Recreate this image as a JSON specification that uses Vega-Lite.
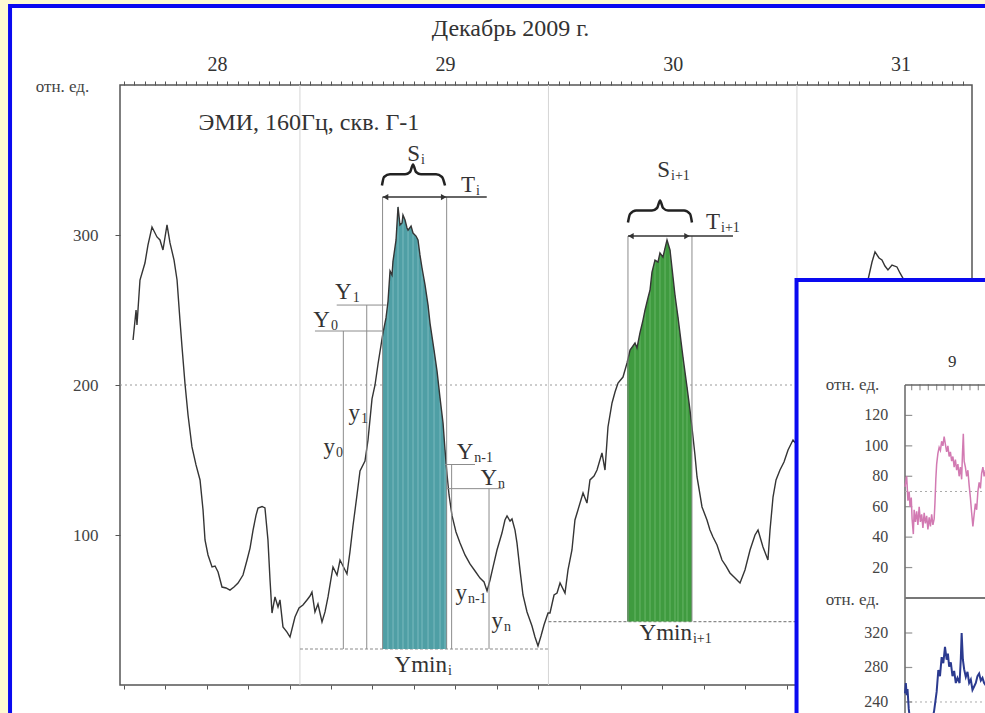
{
"$schema": "https://vega.github.io/schema/vega-lite/v6.json",
"width": 852,
"height": 600,
"autosize": "none",
"padding": {"left": 120, "top": 85, "right": 13, "bottom": 28},
"background": "white",
"config": {"view": {"stroke": "#555555", "strokeWidth": 1.5}, "axis": {"grid": false}, "font": "Liberation Serif, Times New Roman, DejaVu Serif, serif"},
"datasets": {
"curve": [{"h":7.88,"v":230},{"h":8.17,"v":250},{"h":8.26,"v":240},{"h":8.55,"v":270},{"h":9.03,"v":281.3},{"h":9.32,"v":293.3},{"h":9.71,"v":305.3},{"h":10.19,"v":298.7},{"h":10.48,"v":296.7},{"h":10.77,"v":290},{"h":11.16,"v":306.7},{"h":11.45,"v":294.7},{"h":11.84,"v":283.3},{"h":12.13,"v":270},{"h":12.41,"v":243.3},{"h":12.61,"v":225.3},{"h":12.9,"v":200.7},{"h":13.19,"v":180},{"h":13.57,"v":158.7},{"h":13.96,"v":146.7},{"h":14.35,"v":136.7},{"h":14.64,"v":116.7},{"h":14.83,"v":96.7},{"h":15.12,"v":86.7},{"h":15.51,"v":78.7},{"h":15.8,"v":79.3},{"h":16.09,"v":75.3},{"h":16.47,"v":65.3},{"h":16.86,"v":64.7},{"h":17.24,"v":63.3},{"h":17.63,"v":65.3},{"h":18.02,"v":68},{"h":18.5,"v":73.3},{"h":18.89,"v":83.3},{"h":19.18,"v":91.3},{"h":19.47,"v":103.3},{"h":19.76,"v":113.3},{"h":19.95,"v":118},{"h":20.34,"v":119},{"h":20.62,"v":118},{"h":20.91,"v":96.7},{"h":21.11,"v":70},{"h":21.3,"v":48},{"h":21.59,"v":58.7},{"h":21.88,"v":52},{"h":22.07,"v":56.7},{"h":22.36,"v":38.7},{"h":22.75,"v":35.3},{"h":23.04,"v":32},{"h":23.52,"v":45.3},{"h":23.91,"v":51.3},{"h":24.29,"v":53.3},{"h":24.68,"v":56.7},{"h":24.97,"v":59.3},{"h":25.16,"v":62},{"h":25.45,"v":48.7},{"h":25.74,"v":54},{"h":26.13,"v":42},{"h":26.42,"v":48.7},{"h":26.71,"v":58.7},{"h":27.19,"v":78.7},{"h":27.58,"v":73.3},{"h":27.87,"v":83.3},{"h":28.16,"v":79.3},{"h":28.54,"v":74},{"h":28.83,"v":88.7},{"h":29.12,"v":106},{"h":29.51,"v":126.7},{"h":29.8,"v":142.7},{"h":30.28,"v":149.3},{"h":30.57,"v":163.3},{"h":30.96,"v":190.7},{"h":31.25,"v":200},{"h":31.54,"v":214},{"h":32.02,"v":234.7},{"h":32.31,"v":244.7},{"h":32.5,"v":255.3},{"h":32.7,"v":276},{"h":32.89,"v":273.3},{"h":32.99,"v":282.7},{"h":33.28,"v":296.7},{"h":33.47,"v":318.7},{"h":33.66,"v":306.7},{"h":33.86,"v":308},{"h":33.95,"v":313.3},{"h":34.15,"v":310},{"h":34.34,"v":304.7},{"h":34.44,"v":303.3},{"h":34.73,"v":306},{"h":34.92,"v":301.3},{"h":35.21,"v":299.3},{"h":35.4,"v":296.7},{"h":35.59,"v":286.7},{"h":35.79,"v":278},{"h":36.08,"v":266.7},{"h":36.37,"v":253.3},{"h":36.56,"v":241.3},{"h":36.95,"v":223.3},{"h":37.24,"v":209.3},{"h":37.53,"v":191.3},{"h":37.82,"v":174.7},{"h":38.01,"v":156.7},{"h":38.2,"v":140.7},{"h":38.4,"v":126.7},{"h":38.69,"v":112.7},{"h":39.07,"v":102},{"h":39.46,"v":94.7},{"h":39.94,"v":86.7},{"h":40.42,"v":80.7},{"h":40.91,"v":76},{"h":41.39,"v":71.3},{"h":41.78,"v":68.7},{"h":42.07,"v":62.7},{"h":42.36,"v":70},{"h":42.65,"v":78.7},{"h":43.03,"v":90},{"h":43.51,"v":101.3},{"h":43.8,"v":110},{"h":44.0,"v":112.7},{"h":44.29,"v":109.3},{"h":44.48,"v":110.7},{"h":44.77,"v":103.3},{"h":44.96,"v":94.7},{"h":45.25,"v":76.7},{"h":45.54,"v":60},{"h":45.93,"v":48.7},{"h":46.41,"v":39.3},{"h":46.7,"v":32},{"h":46.99,"v":26},{"h":47.28,"v":32.7},{"h":47.57,"v":40},{"h":47.96,"v":48},{"h":48.15,"v":48},{"h":48.54,"v":60},{"h":48.83,"v":61.3},{"h":49.12,"v":68},{"h":49.6,"v":61.3},{"h":49.89,"v":76.7},{"h":50.27,"v":90},{"h":50.56,"v":110},{"h":50.85,"v":116.7},{"h":51.34,"v":128},{"h":51.72,"v":121.3},{"h":52.01,"v":136.7},{"h":52.4,"v":139.3},{"h":52.69,"v":143.3},{"h":53.17,"v":154.7},{"h":53.46,"v":143.3},{"h":53.75,"v":172},{"h":54.14,"v":188},{"h":54.43,"v":195.3},{"h":54.72,"v":201.3},{"h":55.2,"v":205.3},{"h":55.59,"v":214.7},{"h":55.88,"v":223.3},{"h":56.36,"v":228},{"h":56.55,"v":224.7},{"h":56.84,"v":234.7},{"h":57.13,"v":243.3},{"h":57.33,"v":250},{"h":57.61,"v":258},{"h":57.81,"v":263.3},{"h":58.0,"v":275.3},{"h":58.29,"v":283.3},{"h":58.58,"v":282},{"h":58.77,"v":288},{"h":59.06,"v":285.3},{"h":59.26,"v":291.3},{"h":59.45,"v":296.7},{"h":59.74,"v":290},{"h":60.03,"v":272},{"h":60.22,"v":260},{"h":60.51,"v":245.3},{"h":60.99,"v":218.7},{"h":61.38,"v":198.7},{"h":61.67,"v":183.3},{"h":61.86,"v":172},{"h":62.15,"v":153.3},{"h":62.35,"v":138.7},{"h":62.64,"v":126.7},{"h":62.83,"v":118.7},{"h":63.31,"v":110},{"h":63.6,"v":103.3},{"h":63.89,"v":98.7},{"h":64.28,"v":93.3},{"h":64.76,"v":83.3},{"h":65.15,"v":79.3},{"h":65.53,"v":74.7},{"h":66.02,"v":71.3},{"h":66.5,"v":68},{"h":66.98,"v":76.7},{"h":67.47,"v":90},{"h":67.95,"v":100},{"h":68.24,"v":103.3},{"h":68.72,"v":92},{"h":69.2,"v":83.3},{"h":69.4,"v":103.3},{"h":69.69,"v":125.3},{"h":69.98,"v":136.7},{"h":70.36,"v":143.3},{"h":70.75,"v":148.7},{"h":71.14,"v":156.7},{"h":71.62,"v":163.3},{"h":72.01,"v":160},{"h":72.3,"v":170},{"h":73.74,"v":190},{"h":75.68,"v":223.3},{"h":77.61,"v":256.7},{"h":78.86,"v":270},{"h":79.25,"v":282},{"h":79.54,"v":288.7},{"h":79.93,"v":284.7},{"h":80.21,"v":283.3},{"h":80.5,"v":279.3},{"h":80.79,"v":276.7},{"h":81.18,"v":280},{"h":81.66,"v":278.7},{"h":81.95,"v":274.7},{"h":82.44,"v":268.7},{"h":83.4,"v":250},{"h":84.85,"v":223.3},{"h":86.78,"v":203.3},{"h":88.23,"v":196.7}],
"guides": [{"h1":31.98,"h2":31.98,"v1":325.3,"v2":24},{"h1":38.17,"h2":38.17,"v1":325.3,"v2":24},{"h1":27.55,"h2":32.38,"v1":253.3,"v2":253.3},{"h1":25.45,"h2":32.05,"v1":236,"v2":236},{"h1":28.19,"h2":28.19,"v1":236,"v2":24},{"h1":30.45,"h2":30.45,"v1":253.3,"v2":24},{"h1":38.01,"h2":40.91,"v1":147,"v2":147},{"h1":38.17,"h2":43.63,"v1":130.9,"v2":130.9},{"h1":38.65,"h2":38.65,"v1":147,"v2":24},{"h1":42.26,"h2":42.26,"v1":130.9,"v2":24},{"h1":55.68,"h2":55.68,"v1":299.3,"v2":42.3},{"h1":61.86,"h2":61.86,"v1":299.3,"v2":42.3}],
"arrows": [{"h1":31.98,"h2":42.04,"v1":325.3,"v2":325.3},{"h1":55.68,"h2":65.82,"v1":299.3,"v2":299.3}],
"heads": [{"h":32.27,"v":325.3,"d":"l"},{"h":37.88,"v":325.3,"d":"r"},{"h":55.97,"v":299.3,"d":"l"},{"h":61.38,"v":299.3,"d":"r"}],
"ymin": [{"h1":24,"h2":48,"v":24},{"h1":48,"h2":72,"v":42.3}],
"braces": [{"b":"a","h":31.92,"v":333},{"b":"a","h":32.12,"v":338.7},{"b":"a","h":32.7,"v":340.5},{"b":"a","h":34.15,"v":340.5},{"b":"a","h":34.63,"v":342},{"b":"a","h":34.92,"v":347},{"b":"a","h":35.21,"v":342},{"b":"a","h":35.69,"v":340.5},{"b":"a","h":37.14,"v":340.5},{"b":"a","h":37.72,"v":338.7},{"b":"a","h":38.01,"v":333},{"b":"b","h":55.68,"v":308.3},{"b":"b","h":55.88,"v":314},{"b":"b","h":56.46,"v":316.3},{"b":"b","h":58.0,"v":316.3},{"b":"b","h":58.49,"v":318},{"b":"b","h":58.78,"v":323},{"b":"b","h":59.07,"v":318},{"b":"b","h":59.55,"v":316.3},{"b":"b","h":61.1,"v":316.3},{"b":"b","h":61.68,"v":314},{"b":"b","h":61.86,"v":308.3}],
"labels": [{"h":35.59,"v":354,"m":"S","s":"i"},{"h":40.91,"v":333.3,"m":"T","s":"i"},{"h":59.74,"v":343.3,"m":"S","s":"i+1"},{"h":64.57,"v":308.9,"m":"T","s":"i+1"},{"h":29.0,"v":262,"m":"Y","s":"1"},{"h":26.9,"v":243.3,"m":"Y","s":"0"},{"h":29.8,"v":181.3,"m":"y","s":"1"},{"h":27.39,"v":158.6,"m":"y","s":"0"},{"h":40.74,"v":155.3,"m":"Y","s":"n-1"},{"h":43.04,"v":138,"m":"Y","s":"n"},{"h":40.13,"v":61.3,"m":"y","s":"n-1"},{"h":43.61,"v":42.6,"m":"y","s":"n"},{"h":38.2,"v":13.3,"m":"Ymin","s":"\u00a0i"},{"h":61.86,"v":34.7,"m":"Ymin","s":"i+1"}],
"days": [{"h":24},{"h":48},{"h":72}],
"pink": [{"ih":0,"v":73},{"ih":0.2,"v":80},{"ih":0.35,"v":64},{"ih":0.5,"v":70},{"ih":0.6,"v":60},{"ih":0.75,"v":66},{"ih":0.85,"v":52},{"ih":1.0,"v":42},{"ih":1.1,"v":58},{"ih":1.25,"v":50},{"ih":1.4,"v":57},{"ih":1.55,"v":48},{"ih":1.7,"v":60},{"ih":1.85,"v":50},{"ih":2.0,"v":55},{"ih":2.15,"v":46},{"ih":2.3,"v":56},{"ih":2.45,"v":49},{"ih":2.6,"v":54},{"ih":2.75,"v":45},{"ih":2.9,"v":53},{"ih":3.05,"v":47},{"ih":3.2,"v":55},{"ih":3.35,"v":48},{"ih":3.5,"v":52},{"ih":3.6,"v":63},{"ih":3.7,"v":78},{"ih":3.8,"v":88},{"ih":3.95,"v":95},{"ih":4.1,"v":99},{"ih":4.25,"v":97},{"ih":4.4,"v":103},{"ih":4.55,"v":100},{"ih":4.7,"v":106},{"ih":4.85,"v":101},{"ih":5.0,"v":96},{"ih":5.15,"v":100},{"ih":5.3,"v":93},{"ih":5.45,"v":96},{"ih":5.6,"v":90},{"ih":5.75,"v":93},{"ih":5.9,"v":86},{"ih":6.05,"v":91},{"ih":6.2,"v":84},{"ih":6.35,"v":88},{"ih":6.5,"v":80},{"ih":6.65,"v":86},{"ih":6.8,"v":78},{"ih":6.9,"v":95},{"ih":7.0,"v":108},{"ih":7.1,"v":90},{"ih":7.25,"v":86},{"ih":7.4,"v":80},{"ih":7.55,"v":84},{"ih":7.7,"v":74},{"ih":7.85,"v":66},{"ih":8.0,"v":56},{"ih":8.15,"v":47},{"ih":8.3,"v":55},{"ih":8.45,"v":62},{"ih":8.6,"v":58},{"ih":8.75,"v":70},{"ih":8.9,"v":76},{"ih":9.05,"v":72},{"ih":9.2,"v":82},{"ih":9.35,"v":86},{"ih":9.5,"v":80},{"ih":9.65,"v":84},{"ih":9.8,"v":78}],
"navy": [{"ih":0,"v":250},{"ih":0.1,"v":262},{"ih":0.2,"v":248},{"ih":0.3,"v":255},{"ih":0.45,"v":232},{"ih":0.6,"v":220},{"ih":0.8,"v":210},{"ih":1.2,"v":205},{"ih":2.0,"v":208},{"ih":2.6,"v":212},{"ih":3.2,"v":215},{"ih":3.5,"v":230},{"ih":3.8,"v":252},{"ih":4.0,"v":277},{"ih":4.2,"v":270},{"ih":4.4,"v":292},{"ih":4.6,"v":285},{"ih":4.8,"v":304},{"ih":5.0,"v":289},{"ih":5.15,"v":296},{"ih":5.3,"v":281},{"ih":5.5,"v":286},{"ih":5.7,"v":270},{"ih":5.9,"v":276},{"ih":6.1,"v":262},{"ih":6.3,"v":268},{"ih":6.55,"v":262},{"ih":6.7,"v":290},{"ih":6.8,"v":320},{"ih":6.95,"v":289},{"ih":7.1,"v":278},{"ih":7.3,"v":269},{"ih":7.5,"v":275},{"ih":7.7,"v":262},{"ih":7.9,"v":266},{"ih":8.1,"v":254},{"ih":8.3,"v":258},{"ih":8.5,"v":262},{"ih":8.7,"v":270},{"ih":8.9,"v":273},{"ih":9.1,"v":265},{"ih":9.3,"v":268},{"ih":9.5,"v":262},{"ih":9.8,"v":258}],
"topLabels": [{"v":20,"t":"20"},{"v":40,"t":"40"},{"v":60,"t":"60"},{"v":80,"t":"80"},{"v":100,"t":"100"},{"v":120,"t":"120"}],
"botLabels": [{"v":240,"t":"240"},{"v":280,"t":"280"},{"v":320,"t":"320"}],
"insetTicks": [{"ih":0.8},{"ih":1.8},{"ih":2.8},{"ih":3.8},{"ih":4.8},{"ih":5.8},{"ih":6.8},{"ih":7.8},{"ih":8.8},{"ih":9.8}]
},
"resolve": {"scale": {"x": "independent", "y": "independent"}},
"layer": [
{"layer": [
 {"data": {"values": [{}]}, "mark": {"type": "rect", "fill": "#fdfbd2"}, "encoding": {"x": {"datum": -20, "type": "quantitative"}, "x2": {"datum": -4.2}, "y": {"datum": -60, "type": "quantitative"}, "y2": {"datum": 520}}},
 {"data": {"values": [{}]}, "mark": {"type": "rect", "fill": "#fdfbd2"}, "encoding": {"x": {"datum": -20, "type": "quantitative"}, "x2": {"datum": 100}, "y": {"datum": 454, "type": "quantitative"}, "y2": {"datum": 520}}},
 {"data": {"values": [{}]}, "mark": {"type": "rect", "fillOpacity": 0, "stroke": "#0a0af0", "strokeWidth": 4}, "encoding": {"x": {"datum": -4.0, "type": "quantitative"}, "x2": {"datum": 91.61}, "y": {"datum": 452.7, "type": "quantitative"}, "y2": {"datum": -30}}},
 {"data": {"name": "days"}, "mark": {"type": "rule", "color": "#d5d5d5", "strokeWidth": 1}, "encoding": {"x": {"field": "h", "type": "quantitative"}}},
 {"data": {"values": [{}]}, "mark": {"type": "rule", "color": "#9a9a9a", "strokeDash": [2, 3], "strokeWidth": 1}, "encoding": {"y": {"datum": 200, "type": "quantitative"}}},
 {"data": {"name": "ymin"}, "mark": {"type": "rule", "color": "#8a8a8a", "strokeDash": [3, 2], "strokeWidth": 1.2}, "encoding": {"x": {"field": "h1", "type": "quantitative"}, "x2": {"field": "h2"}, "y": {"field": "v", "type": "quantitative"}}},
 {"data": {"name": "curve"}, "transform": [{"filter": {"field": "h", "range": [31.98, 38.21]}}], "mark": {"type": "area", "color": "#4f9fa5"}, "encoding": {"x": {"field": "h", "type": "quantitative"}, "y": {"field": "v", "type": "quantitative"}, "y2": {"datum": 24}}},
 {"data": {"name": "curve"}, "transform": [{"filter": {"field": "h", "oneOf": [32.5, 32.99, 33.47, 33.95, 34.44, 34.92, 35.4, 35.79, 36.37, 36.95, 37.53, 38.01]}}], "mark": {"type": "rule", "color": "#86c2c6", "strokeWidth": 1, "opacity": 0.8}, "encoding": {"x": {"field": "h", "type": "quantitative"}, "y": {"field": "v", "type": "quantitative"}, "y2": {"datum": 24}}},
 {"data": {"name": "curve"}, "transform": [{"filter": {"field": "h", "range": [55.59, 61.87]}}], "mark": {"type": "area", "color": "#3f9b3f"}, "encoding": {"x": {"field": "h", "type": "quantitative"}, "y": {"field": "v", "type": "quantitative"}, "y2": {"datum": 42.3}}},
 {"data": {"name": "curve"}, "transform": [{"filter": {"field": "h", "oneOf": [56.36, 56.84, 57.33, 57.81, 58.29, 58.77, 59.26, 59.74, 60.22, 60.51, 60.99, 61.38]}}], "mark": {"type": "rule", "color": "#72bd72", "strokeWidth": 1, "opacity": 0.8}, "encoding": {"x": {"field": "h", "type": "quantitative"}, "y": {"field": "v", "type": "quantitative"}, "y2": {"datum": 42.3}}},
 {"data": {"name": "curve"}, "mark": {"type": "line", "color": "#353535", "strokeWidth": 1.4},
  "encoding": {
   "x": {"field": "h", "type": "quantitative", "scale": {"domain": [6.62, 88.907], "nice": false, "zero": false},
    "axis": {"orient": "bottom", "values": [7,8,9,10,11,12,13,14,15,16,17,18,19,20,21,22,23,24,25,26,27,28,29,30,31,32,33,34,35,36,37,38,39,40,41,42,43,44,45,46,47,48,49,50,51,52,53,54,55,56,57,58,59,60,61,62,63,64,65,66,67,68,69,70,71,72], "labels": false, "domain": false, "grid": false, "tickSize": 4, "tickColor": "#555555", "title": null}},
   "y": {"field": "v", "type": "quantitative", "scale": {"domain": [0, 400], "nice": false, "zero": false},
    "axis": {"orient": "left", "values": [100, 200, 300], "domain": false, "grid": false, "tickSize": 5, "tickColor": "#555555", "labelFont": "Liberation Serif, Times New Roman, DejaVu Serif, serif", "labelFontSize": 17, "labelColor": "#444444", "labelPadding": 17, "title": "отн. ед.", "titleAngle": 0, "titleX": -58, "titleY": 1, "titleAlign": "center", "titleBaseline": "middle", "titleFont": "Liberation Serif, Times New Roman, DejaVu Serif, serif", "titleFontSize": 17, "titleFontWeight": "normal", "titleColor": "#444444"}}
  }},
 {"data": {"name": "guides"}, "mark": {"type": "rule", "color": "#8c8c8c", "strokeWidth": 1}, "encoding": {"x": {"field": "h1", "type": "quantitative"}, "x2": {"field": "h2"}, "y": {"field": "v1", "type": "quantitative"}, "y2": {"field": "v2"}}},
 {"data": {"name": "arrows"}, "mark": {"type": "rule", "color": "#333333", "strokeWidth": 1.5}, "encoding": {"x": {"field": "h1", "type": "quantitative"}, "x2": {"field": "h2"}, "y": {"field": "v1", "type": "quantitative"}, "y2": {"field": "v2"}}},
 {"data": {"name": "heads"}, "mark": {"type": "point", "filled": true, "color": "#333333", "size": 40, "opacity": 1}, "encoding": {"x": {"field": "h", "type": "quantitative"}, "y": {"field": "v", "type": "quantitative"}, "shape": {"field": "d", "type": "nominal", "scale": {"domain": ["l", "r"], "range": ["triangle-left", "triangle-right"]}, "legend": null}}},
 {"data": {"name": "braces"}, "mark": {"type": "line", "color": "#222222", "strokeWidth": 2.5, "interpolate": "monotone"}, "encoding": {"x": {"field": "h", "type": "quantitative"}, "y": {"field": "v", "type": "quantitative"}, "detail": {"field": "b", "type": "nominal"}}},
 {"data": {"name": "labels"}, "mark": {"type": "text", "align": "right", "baseline": "middle", "font": "Liberation Serif, Times New Roman, DejaVu Serif, serif", "fontSize": 23, "color": "#333333"}, "encoding": {"x": {"field": "h", "type": "quantitative"}, "y": {"field": "v", "type": "quantitative"}, "text": {"field": "m"}}},
 {"data": {"name": "labels"}, "mark": {"type": "text", "align": "left", "baseline": "middle", "dx": 1, "dy": 6, "font": "Liberation Serif, Times New Roman, DejaVu Serif, serif", "fontSize": 14, "color": "#333333"}, "encoding": {"x": {"field": "h", "type": "quantitative"}, "y": {"field": "v", "type": "quantitative"}, "text": {"field": "s"}}},
 {"data": {"values": [{}]}, "mark": {"type": "text", "align": "center", "baseline": "middle", "font": "Liberation Serif, Times New Roman, DejaVu Serif, serif", "fontSize": 24, "color": "#333333"}, "encoding": {"x": {"datum": 24.87, "type": "quantitative"}, "y": {"datum": 374.7, "type": "quantitative"}, "text": {"value": "ЭМИ, 160Гц, скв. Г-1"}}},
 {"data": {"values": [{}]}, "mark": {"type": "rect", "fill": "white", "stroke": "#0a0af0", "strokeWidth": 4}, "encoding": {"x": {"datum": 71.96, "type": "quantitative"}, "x2": {"datum": 91.61}, "y": {"datum": 270, "type": "quantitative"}, "y2": {"datum": -30}}}
]},
{"data": {"name": "days"}, "mark": {"type": "rule", "opacity": 0},
 "encoding": {"x": {"field": "h", "type": "quantitative", "scale": {"domain": [6.62, 88.907], "nice": false, "zero": false},
  "axis": {"orient": "top", "values": [7,8,9,10,11,12,13,14,15,16,17,18,19,20,21,22,23,24,25,26,27,28,29,30,31,32,33,34,35,36,37,38,39,40,41,42,43,44,45,46,47,48,49,50,51,52,53,54,55,56,57,58,59,60,61,62,63,64,65,66,67,68,69,70,71,72,73,74,75,76,77,78,79,80,81,82,83,84,85,86,87,88],
   "labelExpr": "datum.value==16?'28':datum.value==38?'29':datum.value==60?'30':datum.value==82?'31':''",
   "labelOverlap": false, "labelFlush": false, "domain": false, "grid": false, "tickSize": 4, "tickColor": "#555555",
   "labelFont": "Liberation Serif, Times New Roman, DejaVu Serif, serif", "labelFontSize": 20, "labelColor": "#333333", "labelPadding": 7,
   "title": "Декабрь 2009 г.", "titleX": 390, "titleY": -57, "titleAlign": "center", "titleBaseline": "middle", "titleFont": "Liberation Serif, Times New Roman, DejaVu Serif, serif", "titleFontSize": 24, "titleFontWeight": "normal", "titleColor": "#333333"}}}},
{"layer": [
 {"data": {"values": [{}]}, "mark": {"type": "rule", "color": "#666666", "strokeWidth": 1.5}, "encoding": {"x": {"datum": 0, "type": "quantitative", "scale": {"domain": [-94.24, 8.043], "nice": false, "zero": false}, "axis": null}, "y": {"datum": 140, "type": "quantitative", "scale": {"domain": [-57.2, 337.2], "nice": false, "zero": false}, "axis": null}, "y2": {"datum": -80}}},
 {"data": {"values": [{}]}, "mark": {"type": "rule", "color": "#666666", "strokeWidth": 1.5}, "encoding": {"x": {"datum": 0, "type": "quantitative", "axis": null}, "x2": {"datum": 12}, "y": {"datum": 140, "type": "quantitative", "axis": null}}},
 {"data": {"values": [{}]}, "mark": {"type": "rule", "color": "#777777", "strokeWidth": 2}, "encoding": {"x": {"datum": 0, "type": "quantitative", "axis": null}, "x2": {"datum": 12}, "y": {"datum": 0, "type": "quantitative", "axis": null}}},
 {"data": {"values": [{}]}, "mark": {"type": "rule", "color": "#aaaaaa", "strokeDash": [2, 3], "strokeWidth": 1}, "encoding": {"x": {"datum": 0, "type": "quantitative", "axis": null}, "x2": {"datum": 12}, "y": {"datum": 70, "type": "quantitative", "axis": null}}},
 {"data": {"name": "insetTicks"}, "mark": {"type": "tick", "orient": "vertical", "size": 6, "thickness": 1.2, "color": "#666666"}, "encoding": {"x": {"field": "ih", "type": "quantitative", "axis": null}, "y": {"datum": 138.5, "type": "quantitative", "axis": null}}},
 {"data": {"name": "topLabels"}, "mark": {"type": "tick", "orient": "horizontal", "size": 7, "thickness": 1.2, "color": "#666666"}, "encoding": {"x": {"datum": 0.45, "type": "quantitative", "axis": null}, "y": {"field": "v", "type": "quantitative", "axis": null}}},
 {"data": {"name": "topLabels"}, "mark": {"type": "text", "align": "right", "baseline": "middle", "font": "Liberation Serif, Times New Roman, DejaVu Serif, serif", "fontSize": 16, "color": "#444444"}, "encoding": {"x": {"datum": -2.0, "type": "quantitative", "axis": null}, "y": {"field": "v", "type": "quantitative", "axis": null}, "text": {"field": "t"}}},
 {"data": {"values": [{}]}, "mark": {"type": "text", "align": "center", "baseline": "middle", "font": "Liberation Serif, Times New Roman, DejaVu Serif, serif", "fontSize": 17, "color": "#444444"}, "encoding": {"x": {"datum": -6.3, "type": "quantitative", "axis": null}, "y": {"datum": 140, "type": "quantitative", "axis": null}, "text": {"value": "отн. ед."}}},
 {"data": {"values": [{}]}, "mark": {"type": "text", "align": "center", "baseline": "middle", "font": "Liberation Serif, Times New Roman, DejaVu Serif, serif", "fontSize": 17, "color": "#333333"}, "encoding": {"x": {"datum": 5.68, "type": "quantitative", "axis": null}, "y": {"datum": 155.3, "type": "quantitative", "axis": null}, "text": {"value": "9"}}},
 {"data": {"name": "pink"}, "mark": {"type": "line", "color": "#d27ab2", "strokeWidth": 1.5}, "encoding": {"x": {"field": "ih", "type": "quantitative", "axis": null}, "y": {"field": "v", "type": "quantitative", "axis": null}}}
]},
{"layer": [
 {"data": {"values": [{}]}, "mark": {"type": "rule", "color": "#aaaaaa", "strokeDash": [2, 3], "strokeWidth": 1}, "encoding": {"x": {"datum": 0, "type": "quantitative", "scale": {"domain": [-94.24, 8.043], "nice": false, "zero": false}, "axis": null}, "x2": {"datum": 12}, "y": {"datum": 240, "type": "quantitative", "scale": {"domain": [259.7, 955.4], "nice": false, "zero": false}, "axis": null}}},
 {"data": {"name": "botLabels"}, "mark": {"type": "tick", "orient": "horizontal", "size": 7, "thickness": 1.2, "color": "#666666"}, "encoding": {"x": {"datum": 0.45, "type": "quantitative", "axis": null}, "y": {"field": "v", "type": "quantitative", "axis": null}}},
 {"data": {"name": "botLabels"}, "mark": {"type": "text", "align": "right", "baseline": "middle", "font": "Liberation Serif, Times New Roman, DejaVu Serif, serif", "fontSize": 16, "color": "#444444"}, "encoding": {"x": {"datum": -2.0, "type": "quantitative", "axis": null}, "y": {"field": "v", "type": "quantitative", "axis": null}, "text": {"field": "t"}}},
 {"data": {"values": [{}]}, "mark": {"type": "text", "align": "center", "baseline": "middle", "font": "Liberation Serif, Times New Roman, DejaVu Serif, serif", "fontSize": 17, "color": "#444444"}, "encoding": {"x": {"datum": -6.3, "type": "quantitative", "axis": null}, "y": {"datum": 358.3, "type": "quantitative", "axis": null}, "text": {"value": "отн. ед."}}},
 {"data": {"name": "navy"}, "mark": {"type": "line", "color": "#2b3a8f", "strokeWidth": 2}, "encoding": {"x": {"field": "ih", "type": "quantitative", "axis": null}, "y": {"field": "v", "type": "quantitative", "axis": null}}}
]}
]
}
